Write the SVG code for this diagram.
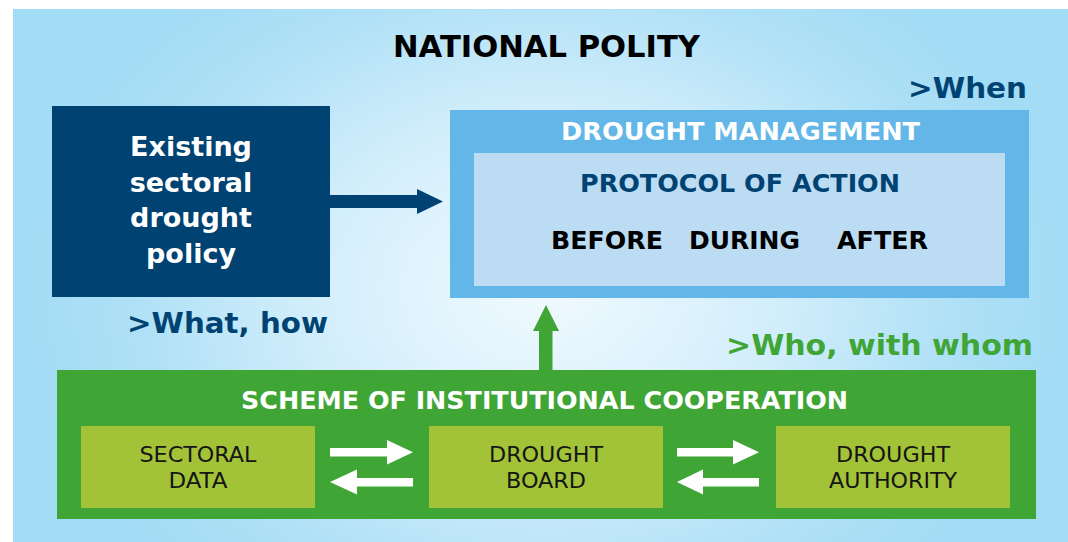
<svg xmlns="http://www.w3.org/2000/svg" width="1068" height="542" viewBox="0 0 1068 542">
  <defs>
    <radialGradient id="bgGrad" gradientUnits="userSpaceOnUse" cx="545" cy="290" r="520" gradientTransform="translate(545 290) scale(1 0.75) translate(-545 -290)">
      <stop offset="0" stop-color="#f1faff"/>
      <stop offset="0.45" stop-color="#d2eefb"/>
      <stop offset="0.8" stop-color="#aee0f6"/>
      <stop offset="1" stop-color="#a3dcf5"/>
    </radialGradient>
    <style>
      .bold { font-family: "DejaVu Sans", "Liberation Sans", sans-serif; font-weight: bold; }
      .reg { font-family: "DejaVu Sans", "Liberation Sans", sans-serif; font-weight: normal; font-size: 21px; fill: #151515; text-anchor: middle; }
      .navy { fill: #004373; }
      .green { fill: #3fa535; }
      .lime { fill: #a2c237; }
      .white { fill: #ffffff; }
      .arrowW { fill: #ffffff; }
    </style>
  </defs>

  <rect id="background" x="13" y="9" width="1055" height="533" fill="url(#bgGrad)"/>

  <text id="title" class="bold" x="393" y="57" font-size="30" fill="#000000" textLength="307" lengthAdjust="spacingAndGlyphs">NATIONAL POLITY</text>

  <g id="existing-policy">
    <rect class="navy" x="52" y="106" width="278" height="191"/>
    <g class="bold white" font-size="27" text-anchor="middle">
      <text x="191" y="156">Existing</text>
      <text x="191" y="191.5">sectoral</text>
      <text x="191" y="227">drought</text>
      <text x="191" y="262.5">policy</text>
    </g>
    <text class="bold navy" x="127" y="333" font-size="29" textLength="201" lengthAdjust="spacingAndGlyphs">&gt;What, how</text>
  </g>

  <g id="drought-management">
    <text class="bold navy" x="908" y="98" font-size="29" textLength="119" lengthAdjust="spacingAndGlyphs">&gt;When</text>
    <rect x="450" y="110" width="579" height="188" fill="#62b6e8"/>
    <text class="bold white" x="561" y="139.5" font-size="25" textLength="359" lengthAdjust="spacingAndGlyphs">DROUGHT MANAGEMENT</text>
    <g id="protocol-of-action">
      <rect x="474" y="153" width="531" height="133" fill="#bcdcf3"/>
      <text class="bold navy" x="580" y="191.5" font-size="25" textLength="320" lengthAdjust="spacingAndGlyphs">PROTOCOL OF ACTION</text>
      <g class="bold" font-size="25" fill="#000000">
        <text x="551" y="248.5" textLength="112" lengthAdjust="spacingAndGlyphs">BEFORE</text>
        <text x="689" y="248.5" textLength="111" lengthAdjust="spacingAndGlyphs">DURING</text>
        <text x="837" y="248.5" textLength="91" lengthAdjust="spacingAndGlyphs">AFTER</text>
      </g>
    </g>
  </g>

  <g id="institutional-cooperation">
    <text class="bold green" x="726" y="355" font-size="29" textLength="307" lengthAdjust="spacingAndGlyphs">&gt;Who, with whom</text>
    <rect class="green" x="57" y="370" width="979" height="149"/>
    <text class="bold white" x="241" y="408.5" font-size="25" textLength="607" lengthAdjust="spacingAndGlyphs">SCHEME OF INSTITUTIONAL COOPERATION</text>
  </g>

  <g id="sectoral-data">
    <rect class="lime" x="81" y="426" width="234" height="82"/>
    <text class="reg" x="198" y="462" textLength="117" lengthAdjust="spacingAndGlyphs">SECTORAL</text>
    <text class="reg" x="198" y="488" textLength="59" lengthAdjust="spacingAndGlyphs">DATA</text>
  </g>

  <g id="drought-board">
    <rect class="lime" x="429" y="426" width="234" height="82"/>
    <text class="reg" x="546" y="462" textLength="114" lengthAdjust="spacingAndGlyphs">DROUGHT</text>
    <text class="reg" x="546" y="488" textLength="80" lengthAdjust="spacingAndGlyphs">BOARD</text>
  </g>

  <g id="drought-authority">
    <rect class="lime" x="776" y="426" width="234" height="82"/>
    <text class="reg" x="893" y="462" textLength="114" lengthAdjust="spacingAndGlyphs">DROUGHT</text>
    <text class="reg" x="893" y="488" textLength="128" lengthAdjust="spacingAndGlyphs">AUTHORITY</text>
  </g>

  <g id="connectors">
    <polygon class="navy" points="330,195 417,195 417,189 443,201.5 417,214 417,208 330,208"/>
    <polygon class="green" points="539,370 539,331 533,331 546,305 559,331 552.5,331 552.5,370"/>
    <polygon class="arrowW" points="330,448 387,448 387,440 413,452.2 387,464.5 387,456.5 330,456.5"/>
    <polygon class="arrowW" points="413,478 357,478 357,469.5 330,482 357,494.5 357,486.5 413,486.5"/>
    <polygon class="arrowW" points="677,448 733,448 733,440 759,452.2 733,464.5 733,456.5 677,456.5"/>
    <polygon class="arrowW" points="759,478 703,478 703,469.5 677,482 703,494.5 703,486.5 759,486.5"/>
  </g>
</svg>
